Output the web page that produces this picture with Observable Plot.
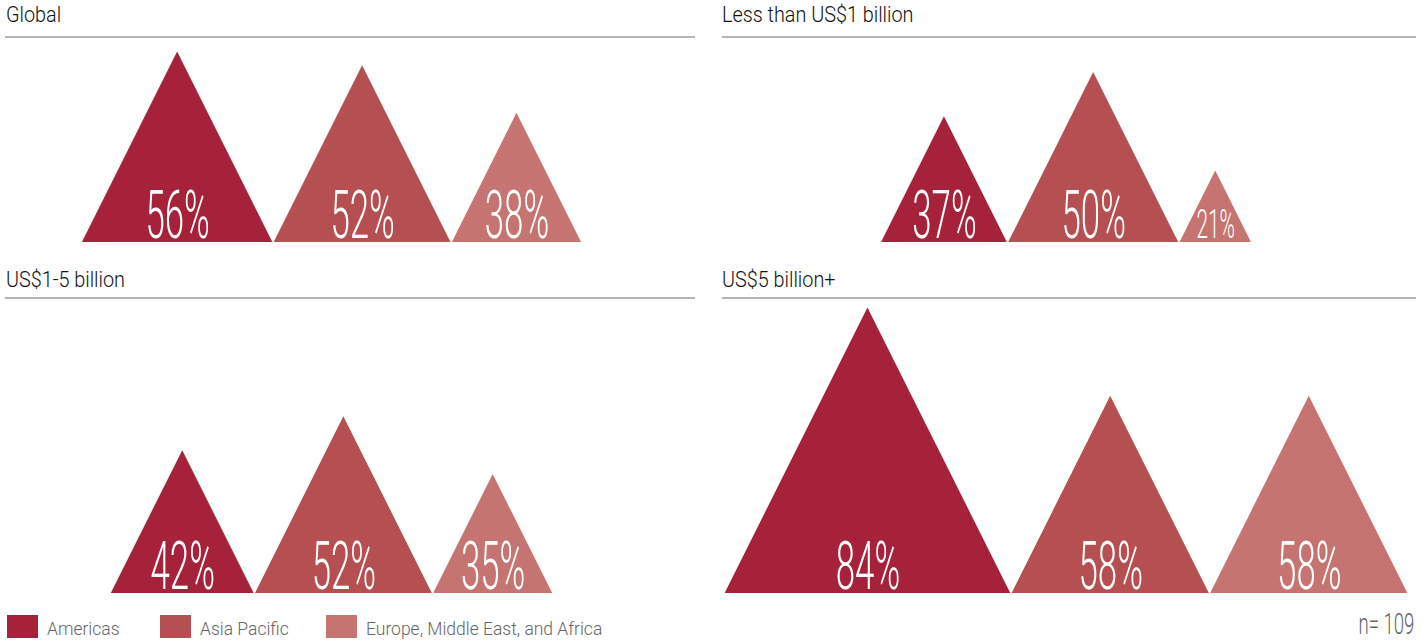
<!DOCTYPE html>
<html><head><meta charset="utf-8">
<script src="https://cdn.jsdelivr.net/npm/d3@7"></script>
<script src="https://cdn.jsdelivr.net/npm/@observablehq/plot@0.6"></script>
<style>
body{margin:0;background:#fff;font-family:Roboto,"Liberation Sans",sans-serif;}
#root{position:relative;width:1428px;height:643px;overflow:hidden;}
.abs{position:absolute;}
.title{font-size:22px;line-height:24px;color:#111;white-space:nowrap;transform:scaleX(.9);transform-origin:0 0;font-weight:300;}
.rule{height:2px;background:#b5b5b5;}
.legend{display:flex;align-items:flex-start;}
.item{display:flex;align-items:flex-start;}
.sw{width:31px;height:23px;margin-right:9px;flex:none;}
.lt{display:inline-block;font-size:19px;line-height:23px;color:#666;white-space:nowrap;transform:scaleX(.92);transform-origin:0 0;padding-top:2px;font-weight:300;}
.n{font-size:29px;line-height:30px;color:#666;white-space:nowrap;transform:scaleX(.64);transform-origin:100% 0;font-weight:300;}
</style></head>
<body><div id="root"></div>
<script>
// ---- data ----
const regions = ["Americas", "Asia Pacific", "Europe, Middle East, and Africa"];
const colors = ["#a6223a", "#b54f51", "#c57471"];
const panelTitles = ["Global", "Less than US$1 billion", "US$1-5 billion", "US$5 billion+"];
const globalValues = [56, 52, 38];
const under1Values = [37, 50, 21];
const mid1to5Values = [42, 52, 35];
const over5Values = [84, 58, 58];
const sampleSize = 109;

// ---- layout ----
const PX = 3.4;      // pixels per percentage point (both axes)
const GAP = 0.4;     // gap between triangles, in percentage points
const cols = [
  {svgLeft: 0, svgWidth: 663, ruleLeft: 5, ruleWidth: 690, titleLeft: 6},
  {svgLeft: 710, svgWidth: 712, ruleLeft: 722, ruleWidth: 694, titleLeft: 722}
];
const rows = [
  {titleTop: 3, ruleTop: 36, svgTop: 40, base: 202, svgHeight: 206},
  {titleTop: 268, ruleTop: 297, svgTop: 298, base: 295, svgHeight: 300}
];
const panelValues = [globalValues, under1Values, mid1to5Values, over5Values];

const root = document.getElementById("root");

function build(values) {
  const total = d3.sum(values) + GAP * (values.length - 1);
  let s = -total / 2;
  const pts = [], labels = [];
  values.forEach((v, i) => {
    pts.push({k: i, region: regions[i], x: s, y: 0},
             {k: i, region: regions[i], x: s + v / 2, y: v},
             {k: i, region: regions[i], x: s + v, y: 0});
    labels.push({region: regions[i], x: s + v / 2, v});
    s += v + GAP;
  });
  return {pts, labels};
}

panelValues.forEach((values, p) => {
  const c = cols[p % 2], r = rows[Math.floor(p / 2)];
  const t = document.createElement("div");
  t.className = "abs title";
  t.style.left = c.titleLeft + "px"; t.style.top = r.titleTop + "px";
  t.textContent = panelTitles[p];
  root.appendChild(t);
  const rule = document.createElement("div");
  rule.className = "abs rule";
  rule.style.left = c.ruleLeft + "px"; rule.style.top = r.ruleTop + "px"; rule.style.width = c.ruleWidth + "px";
  root.appendChild(rule);

  const {pts, labels} = build(values);
  const half = c.svgWidth / 2 / PX;
  const svg = Plot.plot({
    width: c.svgWidth, height: r.svgHeight, margin: 0,
    style: {background: "transparent", overflow: "visible"},
    x: {domain: [-half, half], range: [0, c.svgWidth], axis: null},
    y: {domain: [0, r.base / PX], range: [r.base, 0], axis: null},
    color: {domain: regions, range: colors},
    marks: [
      Plot.area(pts, {x1: "x", y1: 0, y2: "y", z: "k", fill: "region"}),
      Plot.text(labels, {x: "x", y: 0, dy: -5, text: d => d.v + "%", fill: "white",
        fontSize: d => d.v < 30 ? 40 : 67, lineAnchor: "bottom", textAnchor: "middle",
        fontFamily: "Roboto", fontWeight: 300})
    ]
  });
  svg.querySelectorAll('g[aria-label="text"] text').forEach(el => {
    el.setAttribute("transform", (el.getAttribute("transform") || "") + " scale(0.52,1)");
  });
  svg.classList.add("abs");
  svg.style.left = c.svgLeft + "px"; svg.style.top = r.svgTop + "px";
  root.appendChild(svg);
});

// legend
const legend = document.createElement("div");
legend.className = "abs legend";
legend.style.left = "7px"; legend.style.top = "615px";
const itemWidths = [153, 166, 300];
regions.forEach((reg, i) => {
  const it = document.createElement("div");
  it.className = "item"; it.style.width = itemWidths[i] + "px";
  const sw = document.createElement("div"); sw.className = "sw"; sw.style.background = colors[i];
  const lt = document.createElement("span"); lt.className = "lt"; lt.textContent = reg;
  it.appendChild(sw); it.appendChild(lt);
  legend.appendChild(it);
});
root.appendChild(legend);

const n = document.createElement("div");
n.className = "abs n";
n.style.right = "14px"; n.style.top = "609px";
n.textContent = "n= " + sampleSize;
root.appendChild(n);
</script>
</body></html>
